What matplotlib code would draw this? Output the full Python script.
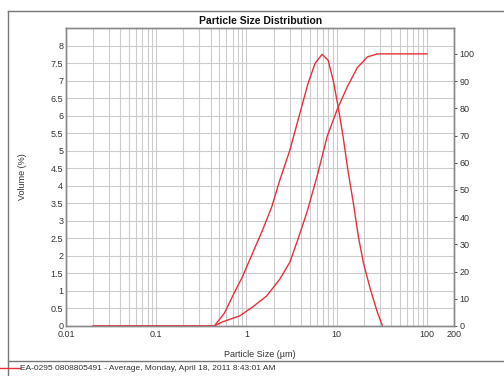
import matplotlib
matplotlib.use("Agg")
import matplotlib.pyplot as plt
import numpy as np
from matplotlib.ticker import FixedLocator, LogLocator, NullFormatter

plt.rcParams['font.family'] = ['Liberation Sans', 'DejaVu Sans']

# Data
size_density = [0.02, 0.44, 0.57, 0.73, 0.90, 1.17, 1.51, 1.90, 2.34, 3.02, 3.91,
                4.81, 5.75, 6.89, 8.03, 9.14, 10.4, 11.8, 13.4, 15.3, 17.4, 19.8,
                23.7, 28.4, 32.2]
volume_density = [0, 0, 0.37, 0.94, 1.40, 2.08, 2.74, 3.39, 4.16, 5.01, 6.07,
                  6.92, 7.49, 7.75, 7.58, 7.01, 6.24, 5.38, 4.39, 3.50, 2.54, 1.79,
                  1.03, 0.37, 0]

size_cumul = [0.02, 0.44, 0.54, 0.84, 1.17, 1.67, 2.34, 3.02, 3.72, 4.68, 6.05,
              7.83, 10.1, 13.1, 16.9, 21.9, 28.4, 100]
volume_cumul = [0, 0, 1.5, 3.7, 7.0, 11.0, 17.2, 23.4, 31.9, 41.8, 54.9,
                69.6, 79.5, 87.9, 94.9, 98.9, 100, 100]

x_ticks = [0.01, 0.1, 1, 10, 100, 200]
x_labels = ['0.01', '0.1', '1', '10', '100', '200']
left_ticks = np.arange(0, 8.01, 0.5)
left_labels = ['0', '0.5', '1', '1.5', '2', '2.5', '3', '3.5', '4', '4.5', '5',
               '5.5', '6', '6.5', '7', '7.5', '8']
right_ticks = np.arange(0, 101, 10)

legend_text = "EA-0295 0808805491 - Average, Monday, April 18, 2011 8:43:01 AM"

red = '#e8303a'
grid_col = '#cccccc'
spine_col = '#8a8a8a'
text_col = '#333333'

fig = plt.figure(figsize=(5.04, 3.76), dpi=100)
ax = fig.add_axes([0.131, 0.133, 0.770, 0.7925])

ax.set_xscale('log')
ax.set_xlim(0.01, 200)
ax.set_ylim(0, 8.5)
ax.xaxis.set_major_locator(FixedLocator(x_ticks))
ax.set_xticklabels(x_labels)
ax.xaxis.set_minor_locator(LogLocator(base=10, subs=np.arange(2, 10)))
ax.xaxis.set_minor_formatter(NullFormatter())
ax.set_yticks(left_ticks)
ax.set_yticklabels(left_labels)

ax.grid(True, which='both', axis='x', color=grid_col, lw=0.8)
ax.grid(True, which='major', axis='y', color=grid_col, lw=0.8)
ax.set_axisbelow(True)

ax.plot(size_density, volume_density, color=red, lw=1.0,
        solid_joinstyle='round')

ax2 = ax.twinx()
ax2.set_ylim(0, 109.5)
ax2.set_yticks(right_ticks)
ax2.plot(size_cumul, volume_cumul, color=red, lw=1.0, solid_joinstyle='round')

for a in (ax, ax2):
    for s in a.spines.values():
        s.set_color(spine_col)
        s.set_linewidth(1.0)
    a.tick_params(labelsize=6.5, colors=text_col, length=2, width=0.6, pad=2)
ax.tick_params(which='minor', length=0)
ax.tick_params(axis='x', length=0, pad=3)
ax.tick_params(axis='y', length=0)

ax.set_title("Particle Size Distribution", fontsize=7.5, fontweight='bold',
             color='#111111', pad=3)
ax.set_xlabel("Particle Size (\u00b5m)", fontsize=6.5, color=text_col, labelpad=8)
ax.set_ylabel("Volume (%)", fontsize=6.5, color=text_col)
ax.yaxis.set_label_coords(-0.1, 0.5)

# Outer frame and legend
frame_col = '#777777'
fig.add_artist(plt.Line2D([8 / 504, 1], [1 - 11 / 376] * 2, color=frame_col, lw=1.0))
fig.add_artist(plt.Line2D([8 / 504] * 2, [0, 1 - 11 / 376], color=frame_col, lw=1.0))
fig.add_artist(plt.Line2D([8 / 504, 1], [1 - 361 / 376] * 2, color=frame_col, lw=1.0))
fig.add_artist(plt.Line2D([0, 20 / 504], [1 - 368 / 376] * 2, color=red, lw=1.0))
fig.text(20 / 504, 1 - 368 / 376, legend_text, fontsize=6, color=text_col, va='center')

fig.savefig("out.png", dpi=100)
